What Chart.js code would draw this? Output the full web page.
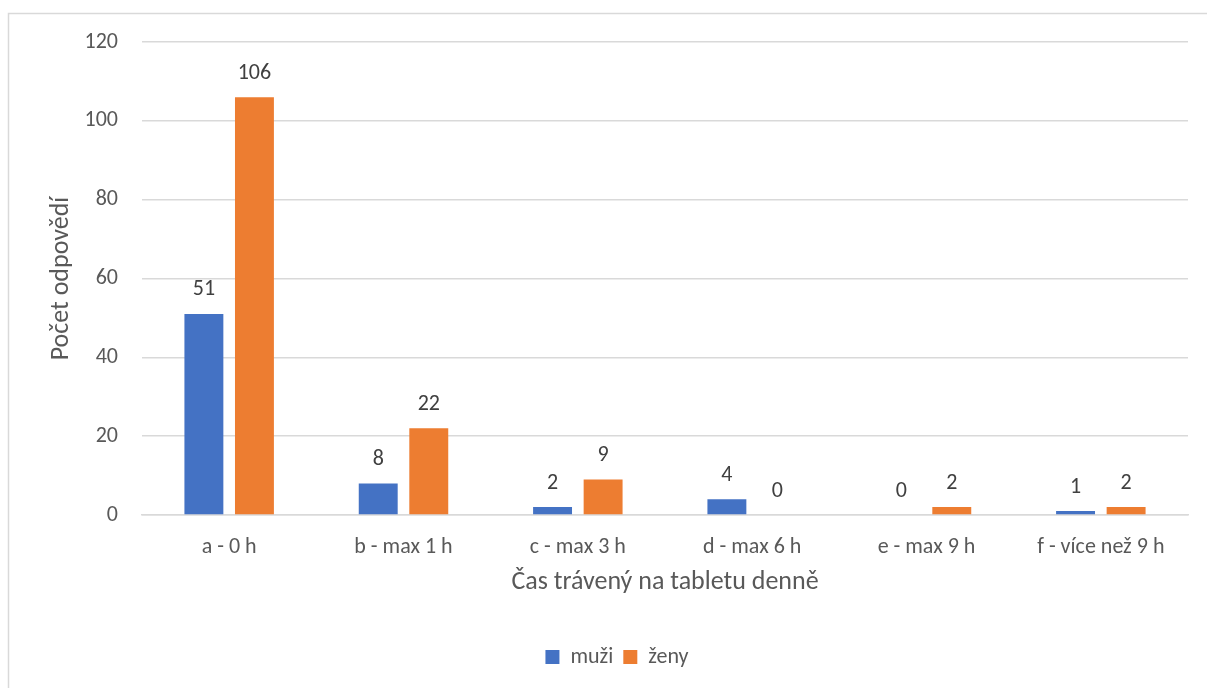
<!DOCTYPE html>
<html>
<head>
<meta charset="utf-8">
<script src="https://cdn.jsdelivr.net/npm/chart.js@4/dist/chart.umd.min.js"></script>
<style>
  html, body { margin: 0; padding: 0; background: #fff; }
  #wrap { position: relative; width: 1207px; height: 688px; }
  canvas { display: block; }
</style>
</head>
<body>
<div id="wrap"><canvas id="c" width="1207" height="688"></canvas></div>
<script>
const categories = ['a - 0 h', 'b - max 1 h', 'c - max 3 h', 'd - max 6 h', 'e - max 9 h', 'f - více než 9 h'];
const muzi = [51, 8, 2, 4, 0, 1];
const zeny = [106, 22, 9, 0, 2, 2];
const yTicks = [0, 20, 40, 60, 80, 100, 120];

const FONT = "Carlito, Lato, 'Open Sans', sans-serif";
const TEXT = '#595959';

// Thin grey frame along the top and left edge of the chart
const framePlugin = {
  id: 'frame',
  beforeDraw(chart) {
    const ctx = chart.ctx;
    ctx.save();
    ctx.fillStyle = '#ffffff';
    ctx.fillRect(0, 0, chart.width, chart.height);
    ctx.strokeStyle = '#d9d9d9';
    ctx.lineWidth = 1.5;
    ctx.beginPath();
    ctx.moveTo(8.5, chart.height);
    ctx.lineTo(8.5, 13.5);
    ctx.lineTo(chart.width, 13.5);
    ctx.stroke();
    ctx.restore();
  }
};

// Value labels above each bar
const valueLabels = {
  id: 'valueLabels',
  afterDatasetsDraw(chart) {
    const ctx = chart.ctx;
    ctx.save();
    ctx.font = '22px ' + FONT;
    ctx.fillStyle = '#404040';
    ctx.textAlign = 'center';
    ctx.textBaseline = 'middle';
    chart.data.datasets.forEach((ds, i) => {
      const meta = chart.getDatasetMeta(i);
      meta.data.forEach((bar, j) => {
        ctx.fillText(String(ds.data[j]), bar.x, bar.y - 24);
      });
    });
    ctx.restore();
  }
};

new Chart(document.getElementById('c'), {
  type: 'bar',
  data: {
    labels: categories,
    datasets: [
      { label: 'muži', data: muzi, backgroundColor: '#4472C4', borderWidth: 0 },
      { label: 'ženy', data: zeny, backgroundColor: '#ED7D31', borderWidth: 0 }
    ]
  },
  options: {
    responsive: false,
    animation: false,
    devicePixelRatio: 1,
    categoryPercentage: 0.58,
    barPercentage: 0.77,
    layout: { padding: { top: 42, right: 19, bottom: 10, left: 46 } },
    plugins: {
      legend: {
        position: 'bottom',
        labels: {
          font: { family: FONT, size: 22 },
          color: TEXT,
          boxWidth: 14,
          boxHeight: 14,
          padding: 10
        }
      },
      tooltip: { enabled: false }
    },
    scales: {
      x: {
        afterFit(axis) { axis.height = 121; },
        grid: { display: false, drawTicks: false },
        border: { display: true, color: '#d9d9d9', width: 1.5 },
        ticks: { font: { family: FONT, size: 22 }, color: TEXT, padding: 19, maxRotation: 0 },
        title: {
          display: true,
          text: 'Čas trávený na tabletu denně',
          font: { family: FONT, size: 26 },
          color: TEXT,
          padding: { top: 0, bottom: 38 }
        }
      },
      y: {
        min: 0,
        max: 120,
        afterFit(axis) { axis.width = 96; },
        afterBuildTicks(axis) { axis.ticks = yTicks.map(v => ({ value: v })); },
        grid: { color: '#d9d9d9', lineWidth: 1.5, drawTicks: false },
        border: { display: false },
        ticks: { font: { family: FONT, size: 22 }, color: TEXT, padding: 24 },
        title: {
          display: true,
          text: 'Počet odpovědí',
          font: { family: FONT, size: 26 },
          color: TEXT,
          padding: { top: 0, bottom: 0 }
        }
      }
    }
  },
  plugins: [framePlugin, valueLabels]
});
</script>
</body>
</html>
